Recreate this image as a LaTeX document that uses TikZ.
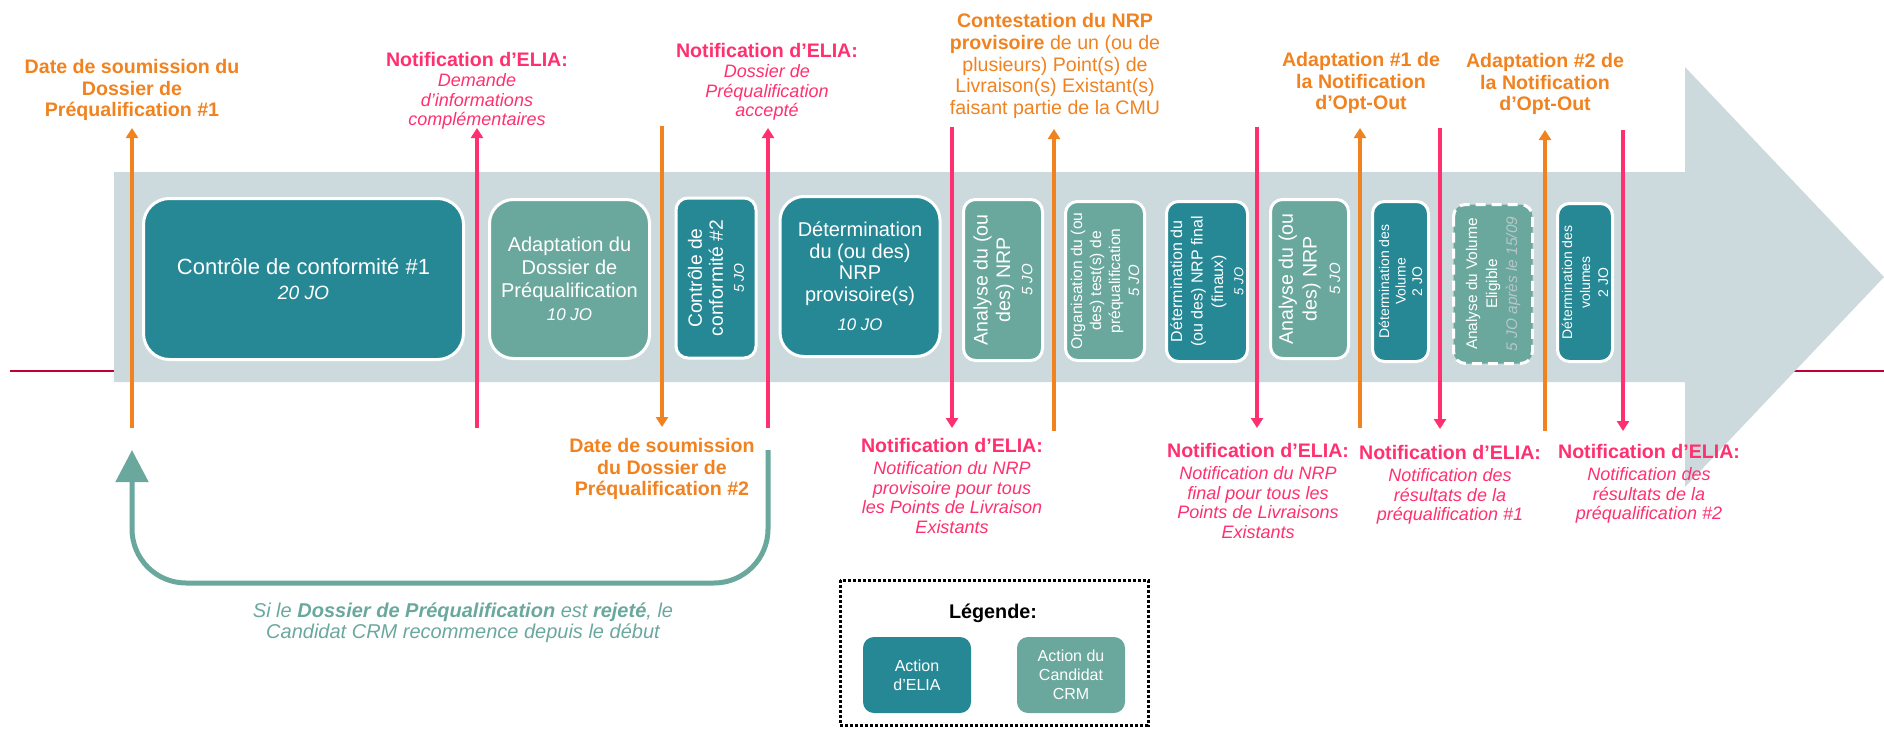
\documentclass[tikz,border=0pt]{standalone}
\usepackage{fontspec}
\setmainfont{Liberation Sans}
\usepackage{tikz}
\usetikzlibrary{arrows.meta}

\definecolor{DarkTeal}{RGB}{38,136,149}
\definecolor{SoftTeal}{RGB}{106,168,158}
\definecolor{BandGrey}{RGB}{205,218,221}
\definecolor{Amber}{RGB}{240,130,32}
\definecolor{Rose}{RGB}{255,48,112}
\definecolor{Crimson}{RGB}{190,0,50}
\definecolor{PaleGrey}{RGB}{185,198,198}

\newcommand{\titlesize}{\fontsize{9.8}{10.85}\selectfont}
\newcommand{\notesize}{\fontsize{9}{9.8}\selectfont}
\newcommand{\notiftitle}{{\titlesize\bfseries\upshape Notification d’ELIA:}}
\newcommand{\durtext}[2]{{\fontsize{#1}{10}\selectfont\itshape #2}}

\begin{document}
\begin{tikzpicture}[x=0.5pt,y=-0.5pt,
    eliabox/.style={fill=DarkTeal,draw=white,line width=1.5pt,rounded corners=6pt,
        text=white,align=center,inner sep=0pt},
    crmbox/.style={eliabox,fill=SoftTeal},
    pointer/.style={line width=1.8pt,-{Triangle[length=5pt,width=6pt]}},
    amberlbl/.style={text=Amber,align=center,font=\titlesize\bfseries},
    roselbl/.style={text=Rose,align=center,font=\notesize\itshape}]

    \useasboundingbox (0,0) rectangle (1884,728);

    % red time line
    \draw[Crimson,line width=1pt] (10,371) -- (1884,371);

    % big grey arrow
    \fill[BandGrey]
        (114,172)
        -- (1685,172)
        -- (1685,67)
        -- (1884,277)
        -- (1685,487)
        -- (1685,382)
        -- (114,382)
        -- cycle;

    % actions (ELIA dark, candidate light)
    \node[eliabox,rounded corners=13pt,minimum width=160pt,minimum height=80.5pt,
        font=\fontsize{11}{12.5}\selectfont] (ctrl1) at (303.5,279)
        {Contrôle de conformité \#1\\\durtext{9.6}{20 JO}};
    \node[crmbox,rounded corners=12pt,minimum width=80pt,minimum height=79.5pt,
        font=\fontsize{10}{11.5}\selectfont] (adapt) at (569.5,279)
        {Adaptation du\\Dossier de\\Préqualification\\\durtext{8.5}{10 JO}};
    \node[eliabox,rotate=90,minimum width=80pt,minimum height=40pt,
        font=\fontsize{9.6}{10.5}\selectfont] (ctrl2) at (716,278)
        {Contrôle de\\conformité \#2\\\durtext{7}{5 JO}};
    \node[eliabox,rounded corners=12pt,minimum width=80pt,minimum height=80pt,
        font=\fontsize{10}{10.8}\selectfont] (nrp1) at (860,276.5)
        {Détermination\\du (ou des)\\NRP\\provisoire(s)\\[4pt]\durtext{8.4}{10 JO}};
    \node[crmbox,rotate=90,minimum width=80.5pt,minimum height=39.5pt,
        font=\fontsize{9.8}{11.2}\selectfont] (check1) at (1003,280)
        {Analyse du (ou\\des) NRP\\\durtext{7.5}{5 JO}};
    \node[crmbox,rotate=90,minimum width=79.5pt,minimum height=39.5pt,
        font=\fontsize{7.8}{9.5}\selectfont] (tests) at (1105,281)
        {Organisation du (ou\\des) test(s) de\\préqualification\\\durtext{7.5}{5 JO}};
    \node[eliabox,rotate=90,minimum width=80pt,minimum height=40.5pt,
        font=\fontsize{8}{10.2}\selectfont] (nrp2) at (1207,281.5)
        {Détermination du\\(ou des) NRP final\\(finaux)\\\durtext{6.5}{5 JO}};
    \node[crmbox,rotate=90,minimum width=79.5pt,minimum height=39pt,
        font=\fontsize{9.8}{11.8}\selectfont] (check2) at (1309.5,279)
        {Analyse du (ou\\des) NRP\\\durtext{7.5}{5 JO}};
    \node[eliabox,rotate=90,minimum width=80pt,minimum height=28pt,
        font=\fontsize{7}{8.2}\selectfont] (vol1) at (1400.5,281.5)
        {Détermination des\\Volume\\2 JO};
    \node[crmbox,rotate=90,dash pattern=on 5pt off 3pt,minimum width=79.5pt,minimum height=39.5pt,
        font=\fontsize{7.7}{10}\selectfont] (elig) at (1493,284)
        {Analyse du Volume\\Eligible\\{\itshape\color{PaleGrey}5 JO après le 15/09}};
    \node[eliabox,rotate=90,minimum width=79pt,minimum height=27.5pt,
        font=\fontsize{7}{9}\selectfont] (vol2) at (1585,282.5)
        {Détermination des\\volumes\\2 JO};

    % markers (orange = candidate, pink = ELIA)
    \coordinate (sub1b) at (132,428);   \coordinate (sub1t) at (132,128);
    \coordinate (askb) at (477,428);    \coordinate (askt) at (477,128);
    \coordinate (sub2t) at (662,126);   \coordinate (sub2b) at (662,427);
    \coordinate (okb) at (768,428);     \coordinate (okt) at (768,128);
    \coordinate (nrp1t) at (952,127);   \coordinate (nrp1b) at (952,428);
    \coordinate (dispb) at (1054,431);  \coordinate (dispt) at (1054,129);
    \coordinate (nrp2t) at (1257,127);  \coordinate (nrp2b) at (1257,428);
    \coordinate (opt1b) at (1360,428);  \coordinate (opt1t) at (1360,128);
    \coordinate (res1t) at (1440,128);  \coordinate (res1b) at (1440,429);
    \coordinate (opt2b) at (1545,431);  \coordinate (opt2t) at (1545,130);
    \coordinate (res2t) at (1623,130);  \coordinate (res2b) at (1623,431);

    \draw[pointer,Amber] (sub1b) -- (sub1t);
    \draw[pointer,Rose] (askb) -- (askt);
    \draw[pointer,Amber] (sub2t) -- (sub2b);
    \draw[pointer,Rose] (okb) -- (okt);
    \draw[pointer,Rose] (nrp1t) -- (nrp1b);
    \draw[pointer,Amber] (dispb) -- (dispt);
    \draw[pointer,Rose] (nrp2t) -- (nrp2b);
    \draw[pointer,Amber] (opt1b) -- (opt1t);
    \draw[pointer,Rose] (res1t) -- (res1b);
    \draw[pointer,Amber] (opt2b) -- (opt2t);
    \draw[pointer,Rose] (res2t) -- (res2b);

    % labels above
    \node[amberlbl] (sub1lbl) at (132,90)
        {Date de soumission du\\Dossier de\\Préqualification \#1};
    \node[roselbl] (asklbl) at (477,91)
        {\notiftitle\\Demande\\d’informations\\complémentaires};
    \node[roselbl] (oklbl) at (767,82)
        {\notiftitle\\Dossier de\\Préqualification\\accepté};
    \node[amberlbl,font=\titlesize] (displbl) at (1055,66)
        {\textbf{Contestation du NRP}\\\textbf{provisoire} de un (ou de\\plusieurs) Point(s) de\\Livraison(s) Existant(s)\\faisant partie de la CMU};
    \node[amberlbl] (opt1lbl) at (1361,83)
        {Adaptation \#1 de\\la Notification\\d’Opt-Out};
    \node[amberlbl] (opt2lbl) at (1545,84)
        {Adaptation \#2 de\\la Notification\\d’Opt-Out};

    % labels below
    \node[amberlbl] (sub2lbl) at (662,469)
        {Date de soumission\\du Dossier de\\Préqualification \#2};
    \node[roselbl] (nrp1lbl) at (952,486)
        {\notiftitle\\[1pt]Notification du NRP\\provisoire pour tous\\les Points de Livraison\\Existants};
    \node[roselbl] (nrp2lbl) at (1258,491)
        {\notiftitle\\[1pt]Notification du NRP\\final pour tous les\\Points de Livraisons\\Existants};
    \node[roselbl] (res1lbl) at (1450,485)
        {\notiftitle\\[1pt]Notification des\\résultats de la\\préqualification \#1};
    \node[roselbl] (res2lbl) at (1649,484)
        {\notiftitle\\[1pt]Notification des\\résultats de la\\préqualification \#2};

    % restart loop
    \coordinate (loopR0) at (768,450);
    \coordinate (loopR1) at (768,583);
    \coordinate (loopL1) at (132,583);
    \coordinate (loopL0) at (132,450);
    \draw[SoftTeal,line width=2.5pt,rounded corners=27pt,-{Triangle[length=16pt,width=16pt]}]
        (loopR0) -- (loopR1) -- (loopL1) -- (loopL0);
    \node[text=SoftTeal,align=center,font=\fontsize{10}{10.4}\selectfont\itshape] (retrylbl) at (463,623)
        {Si le \textbf{Dossier de Préqualification} est \textbf{rejeté}, le\\Candidat CRM recommence depuis le début};

    % legend
    \draw[black,line width=1.5pt,dash pattern=on 1.5pt off 1pt] (840,580) rectangle (1148,725);
    \node[font=\fontsize{9.9}{11}\selectfont\bfseries] (legtitle) at (993,613) {Légende:};
    \node[eliabox,draw=none,rounded corners=5.5pt,minimum width=54pt,minimum height=38pt,
        font=\fontsize{8}{9.5}\selectfont] (legelia) at (917,675) {Action\\d’ELIA};
    \node[crmbox,draw=none,rounded corners=5.5pt,minimum width=54pt,minimum height=38pt,
        font=\fontsize{8}{9.5}\selectfont] (legcrm) at (1071,675) {Action du\\Candidat\\CRM};

\end{tikzpicture}
\end{document}
